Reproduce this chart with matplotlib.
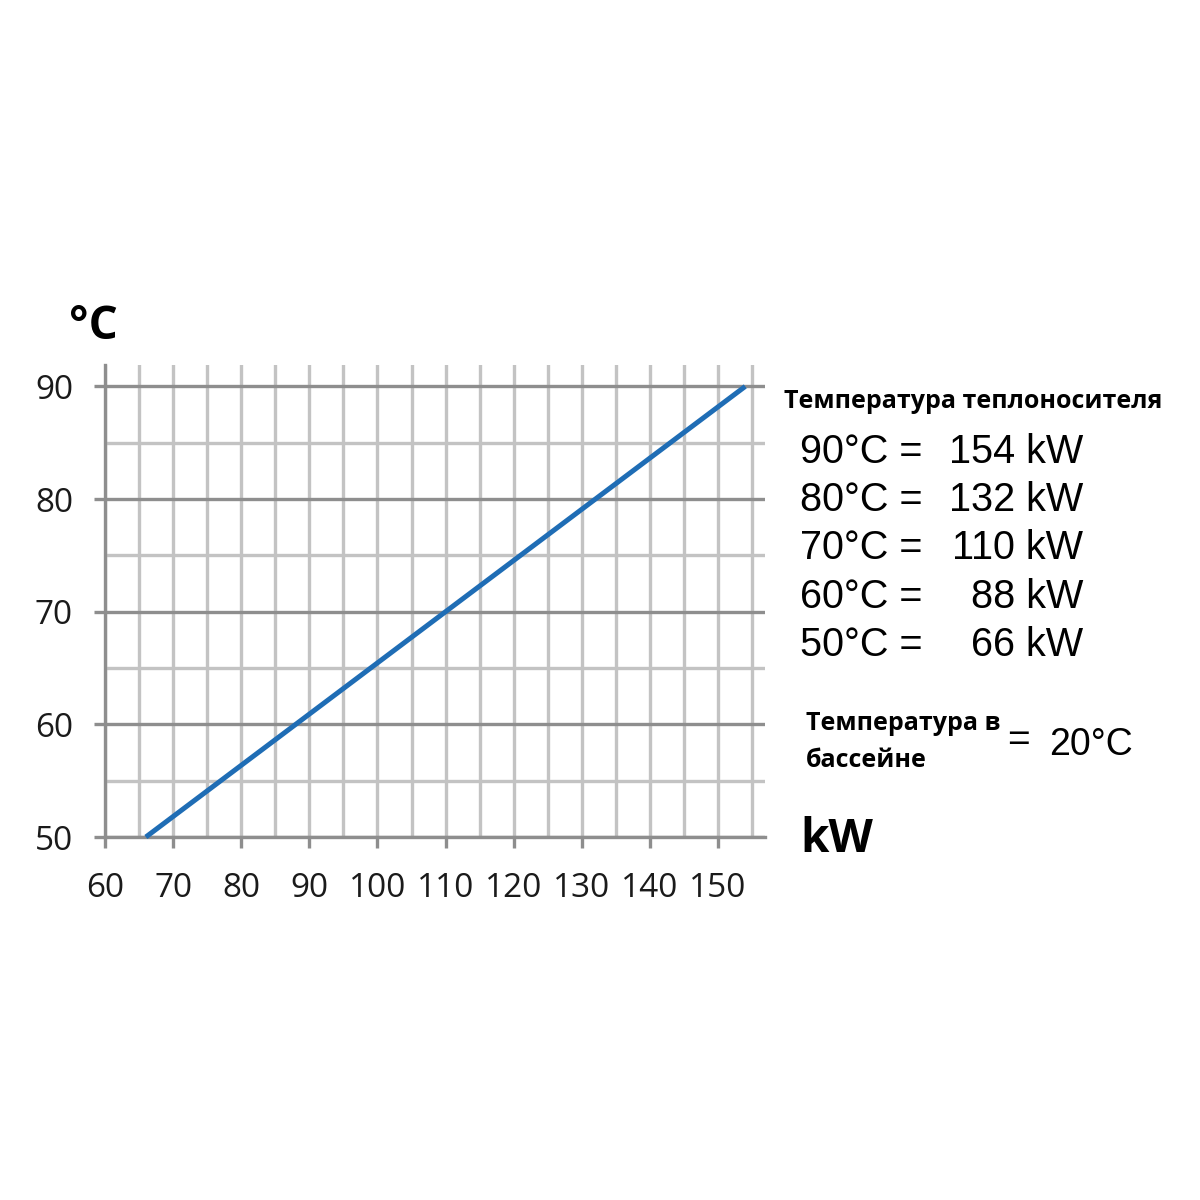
import matplotlib
matplotlib.use("Agg")
import matplotlib.pyplot as plt
from matplotlib.ticker import MultipleLocator

# Data
power_kw = [66, 88, 110, 132, 154]
temp_c = [50, 60, 70, 80, 90]
x_ticks = [60, 70, 80, 90, 100, 110, 120, 130, 140, 150]
y_ticks = [50, 60, 70, 80, 90]
legend_title = "Температура теплоносителя"
legend_temps = ["90°C =", "80°C =", "70°C =", "60°C =", "50°C ="]
legend_powers = ["154 kW", "132 kW", "110 kW", "88 kW", "66 kW"]
pool_label = "Температура в\nбассейне"
pool_value = "20°C"

W = H = 1200
fig = plt.figure(figsize=(12, 12), dpi=100)
fig.patch.set_facecolor("white")

def px(x, y):
    return x / W, 1 - y / H

left, right, top, bottom = 105, 765, 365, 837
ax = fig.add_axes([left / W, 1 - bottom / H, (right - left) / W, (bottom - top) / H])
ax.set_xlim(60, 156.9)
ax.set_ylim(50, 91.9)

light = "#c3c3c3"
dark = "#8e8e8e"

ax.set_xticks(x_ticks)
ax.set_yticks(y_ticks)
ax.xaxis.set_minor_locator(MultipleLocator(5))
ax.yaxis.set_minor_locator(MultipleLocator(5))

ax.grid(True, axis="x", which="both", color=light, linewidth=2.4)
ax.grid(True, axis="y", which="major", color=dark, linewidth=2.4)
ax.grid(True, axis="y", which="minor", color=light, linewidth=2.4)

for s in ["top", "right"]:
    ax.spines[s].set_visible(False)
for s in ["left", "bottom"]:
    ax.spines[s].set_color(dark)
    ax.spines[s].set_linewidth(2.4)

ax.tick_params(axis="both", which="major", length=8, width=2.4, color=dark,
               labelsize=24, labelcolor="#1a1a1a")
ax.tick_params(axis="both", which="minor", length=0)
ax.tick_params(axis="x", which="major", pad=17)
ax.tick_params(axis="y", which="major", pad=15)
for lab in ax.get_xticklabels() + ax.get_yticklabels():
    lab.set_family("Open Sans")
ax.set_axisbelow(True)

ax.plot(power_kw, temp_c, color="#1f6db5", linewidth=3.6, solid_capstyle="butt",
        zorder=5, clip_on=False)

# Axis unit labels
fig.text(*px(93, 326), "°C", family="Open Sans", fontweight="bold", fontsize=33,
         ha="center", va="center", color="black")
fig.text(*px(800, 852), "kW", family="Open Sans", fontweight="bold", fontsize=33,
         ha="left", va="baseline", color="black")

# Right side annotations
fig.text(*px(784, 401), legend_title, family="Open Sans", fontweight="bold",
         fontsize=18, ha="left", va="center", color="black")
ys = [452, 500, 548, 597, 645]
for yy, t, p in zip(ys, legend_temps, legend_powers):
    fig.text(*px(800, yy), t, family="Liberation Sans", fontsize=28.5,
             ha="left", va="center", color="black")
    fig.text(*px(1083, yy), p, family="Liberation Sans", fontsize=28.5,
             ha="right", va="center", color="black")

fig.text(*px(806, 742), pool_label, family="Open Sans", fontweight="bold",
         fontsize=18, ha="left", va="center", color="black", linespacing=1.6)
fig.text(*px(1007, 741), "=", family="Liberation Sans", fontsize=28,
         ha="left", va="center", color="black")
fig.text(*px(1049, 745), pool_value, family="Liberation Sans", fontsize=27,
         ha="left", va="center", color="black")

fig.savefig("out.png", dpi=100, facecolor="white")
